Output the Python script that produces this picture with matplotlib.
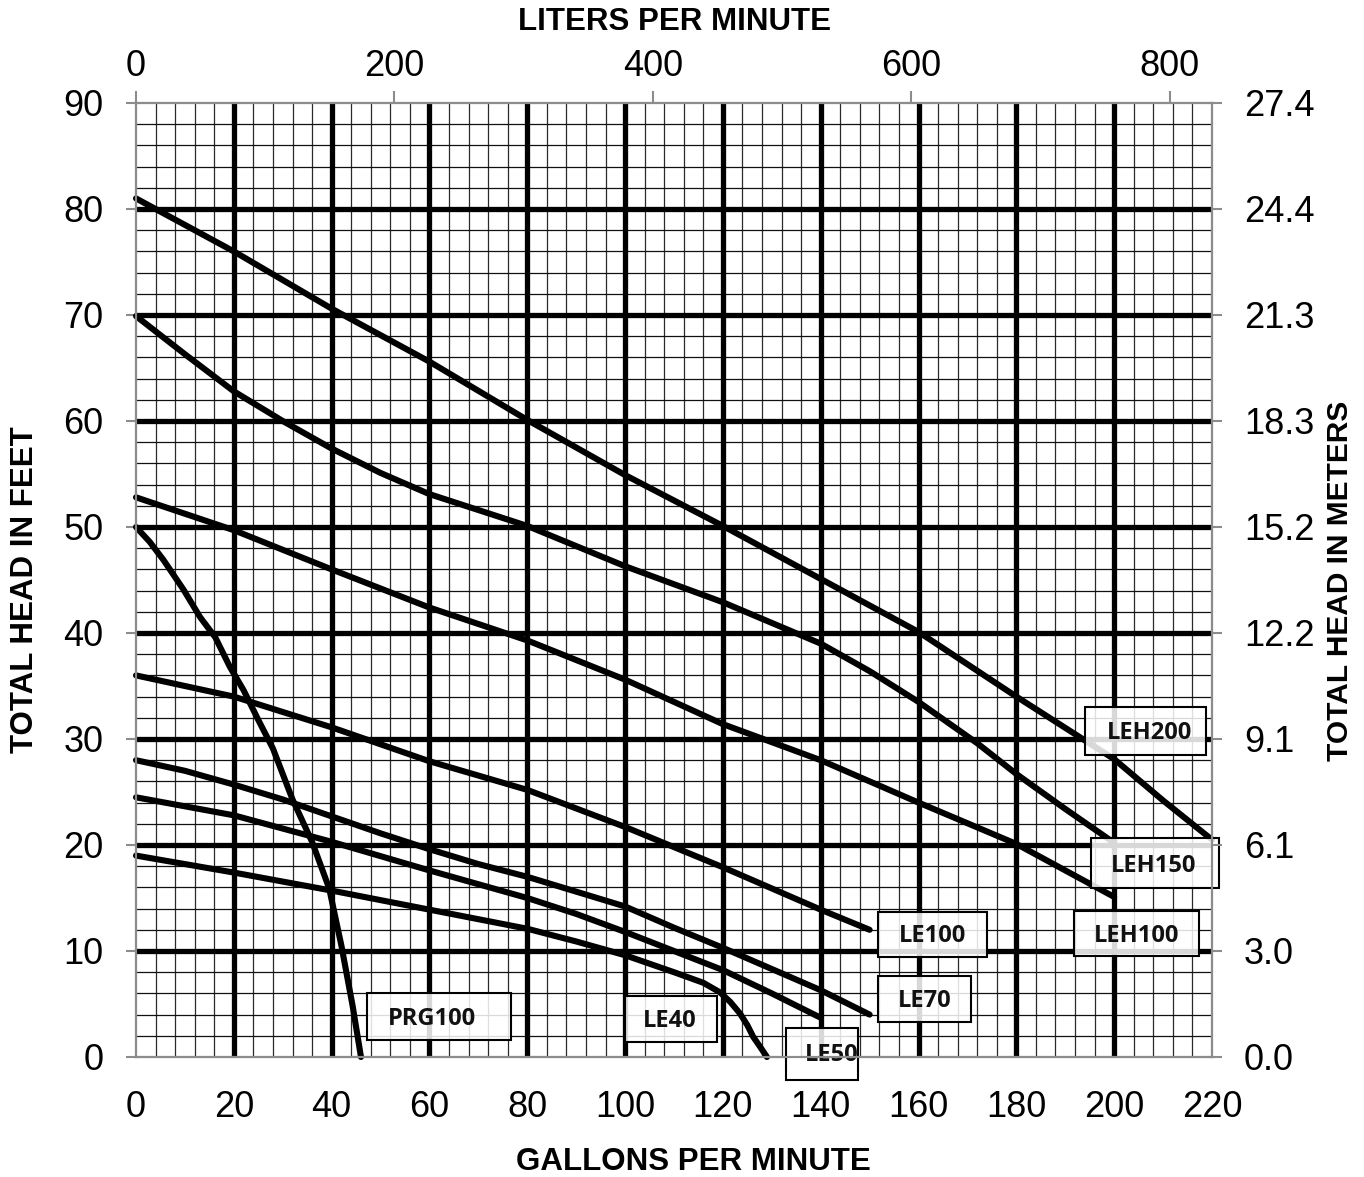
import matplotlib
matplotlib.use('Agg')
import matplotlib.pyplot as plt
from matplotlib.patches import Rectangle

W, H, DPI = 1364, 1177, 100

# ---------------- data ----------------
leh200_gpm = [0, 20, 40, 60, 80, 100, 120, 140, 160, 180, 200, 210, 220]
leh200_ft = [81.0, 76.0, 70.6, 65.6, 60.1, 54.9, 50.1, 45.1, 40.1, 34.0, 28.1, 24.2, 20.5]

leh150_gpm = [0, 10, 20, 30, 40, 50, 60, 80, 100, 120, 140, 150, 160, 172, 180, 190, 200]
leh150_ft = [69.9, 66.3, 62.8, 60.0, 57.4, 55.1, 53.1, 50.1, 46.3, 42.9, 39.0, 36.4, 33.5, 29.6, 26.7, 23.4, 20.2]

leh100_gpm = [0, 20, 40, 60, 80, 100, 120, 140, 160, 180, 200]
leh100_ft = [52.8, 49.7, 46.0, 42.4, 39.3, 35.6, 31.4, 28.0, 24.0, 20.1, 15.1]

le100_gpm = [0, 20, 40, 60, 80, 100, 120, 140, 150]
le100_ft = [36.0, 34.0, 31.1, 27.9, 25.2, 21.7, 17.9, 13.9, 12.0]

le70_gpm = [0, 10, 20, 30, 40, 50, 60, 70, 80, 90, 100, 110, 120, 130, 140, 150]
le70_ft = [28.0, 27.0, 25.7, 24.3, 22.7, 21.1, 19.6, 18.2, 17.0, 15.6, 14.2, 12.2, 10.3, 8.3, 6.3, 4.0]

le50_gpm = [0, 20, 40, 60, 80, 90, 100, 110, 120, 130, 140]
le50_ft = [24.5, 22.8, 20.3, 17.6, 15.0, 13.5, 11.8, 10.0, 8.2, 6.0, 3.7]

le40_gpm = [0, 20, 40, 60, 80, 90, 100, 110, 116, 119.4, 121.5, 123.5, 125, 126.2, 127.7, 129]
le40_ft = [19.0, 17.4, 15.7, 13.9, 12.1, 10.9, 9.6, 8.0, 7.0, 6.1, 5.2, 4.1, 3.0, 1.9, 0.9, 0.0]

prg100_gpm = [0, 2.8, 5.6, 9.7, 13.1, 16.2, 19.2, 22, 25, 28, 32, 36, 39.5, 42, 44.3, 46]
prg100_ft = [50.0, 48.6, 46.9, 44.1, 41.5, 39.6, 36.8, 34.6, 31.8, 29.1, 24.3, 20.3, 15.9, 10.5, 4.8, 0.0]

series_names = ['LEH200', 'LEH150', 'LEH100', 'LE100', 'LE70', 'LE50', 'LE40', 'PRG100']
series_x = [leh200_gpm, leh150_gpm, leh100_gpm, le100_gpm, le70_gpm, le50_gpm, le40_gpm, prg100_gpm]
series_y = [leh200_ft, leh150_ft, leh100_ft, le100_ft, le70_ft, le50_ft, le40_ft, prg100_ft]

gpm_ticks = [0, 20, 40, 60, 80, 100, 120, 140, 160, 180, 200, 220]
ft_ticks = [0, 10, 20, 30, 40, 50, 60, 70, 80, 90]
meter_labels = ['0.0', '3.0', '6.1', '9.1', '12.2', '15.2', '18.3', '21.3', '24.4', '27.4']
lpm_ticks = [0, 200, 400, 600, 800]
LPM_PER_GPM = 3.785

# ---------------- layout (label boxes in data coords: x0, x1, y0, y1, text x, text y) ----------------
label_boxes = {
    'LEH200': (194.0, 218.7, 28.5, 33.0, 207.2, 30.6),
    'LEH150': (195.3, 221.4, 15.9, 20.7, 208.0, 18.0),
    'LEH100': (191.8, 217.3, 9.5, 13.8, 204.6, 11.4),
    'LE100': (151.7, 174.0, 9.4, 13.7, 162.9, 11.4),
    'LE70': (151.7, 170.7, 3.3, 7.6, 161.3, 5.3),
    'LE50': (133.0, 147.6, -2.2, 2.7, 142.3, 0.2),
    'LE40': (100.0, 118.8, 1.4, 5.8, 109.2, 3.4),
    'PRG100': (47.2, 76.7, 1.6, 6.0, 60.5, 3.6),
}

fig = plt.figure(figsize=(W / DPI, H / DPI), dpi=DPI)
fig.patch.set_facecolor('white')
ax = fig.add_axes([136 / W, 1 - 1057 / H, (1212 - 136) / W, (1057 - 103) / H])
ax.set_xlim(0, 220)
ax.set_ylim(0, 90)

# grid: minor every 4 gpm / 2 ft, major every 20 gpm / 10 ft (interior only)
minor_x = [v for v in range(4, 220, 4) if v % 20 != 0]
minor_y = [v for v in range(2, 90, 2) if v % 10 != 0]
major_x = gpm_ticks[1:-1]
major_y = ft_ticks[1:-1]
ax.vlines(minor_x, 0, 90, colors='#2a2a2a', linewidth=0.9, zorder=1)
ax.hlines(minor_y, 0, 220, colors='#111111', linewidth=0.9, zorder=1)
ax.vlines(major_x, 0, 90, colors='black', linewidth=3.8, zorder=2)
ax.hlines(major_y, 0, 220, colors='black', linewidth=3.8, zorder=2)

for xs, ys in zip(series_x, series_y):
    ax.plot(xs, ys, color='black', linewidth=4.4, solid_capstyle='round',
            solid_joinstyle='round', zorder=3, clip_on=False)

for name in series_names:
    x0, x1, y0, y1, tx, ty = label_boxes[name]
    ax.add_patch(Rectangle((x0, y0), x1 - x0, y1 - y0, facecolor='white', alpha=0.85,
                           edgecolor='none', zorder=5, clip_on=False))
    ax.add_patch(Rectangle((x0, y0), x1 - x0, y1 - y0, facecolor='none',
                           edgecolor='black', linewidth=1.5, zorder=5.5, clip_on=False))
    ax.text(tx, ty, name, ha='center', va='center', fontsize=17, fontweight='bold',
            family='Open Sans', color='#111111', zorder=6, clip_on=False)

tick_font = dict(family='Liberation Sans', size=26)
spine_color = '#8c8c8c'

ax.set_xticks(gpm_ticks)
ax.set_xticklabels([str(v) for v in gpm_ticks], **tick_font)
ax.set_yticks(ft_ticks)
ax.set_yticklabels([str(v) for v in ft_ticks], **tick_font)
ax.tick_params(axis='x', length=0, pad=24)
ax.tick_params(axis='y', length=7, width=1.5, color=spine_color, pad=16.5)
for s in ax.spines.values():
    s.set_color(spine_color)
    s.set_linewidth(1.5)

axr = ax.twinx()
axr.set_ylim(0, 90)
axr.set_yticks(ft_ticks)
axr.set_yticklabels(meter_labels, **tick_font)
axr.tick_params(axis='y', length=7, width=1.5, color=spine_color, pad=16)

axt = ax.twiny()
axt.set_xlim(0, 220 * LPM_PER_GPM)
axt.set_xticks(lpm_ticks)
axt.set_xticklabels([str(v) for v in lpm_ticks], **tick_font)
axt.tick_params(axis='x', length=9, width=1.5, color=spine_color, pad=5)
for a in (axr, axt):
    for s in a.spines.values():
        s.set_color(spine_color)
        s.set_linewidth(1.5)

title_font = dict(family='Liberation Sans', size=22.5, fontweight='bold')
fig.text(693 / W, 1 - 1162 / H, 'GALLONS PER MINUTE', ha='center', va='center', **title_font)
fig.text(674 / W, 1 - 22 / H, 'LITERS PER MINUTE', ha='center', va='center', **title_font)
fig.text(25 / W, 1 - 590 / H, 'TOTAL HEAD IN FEET', ha='center', va='center', rotation=90, **title_font)
fig.text(1340 / W, 1 - 581 / H, 'TOTAL HEAD IN METERS', ha='center', va='center', rotation=90,
         family='Liberation Sans', size=21.5, fontweight='bold')

fig.savefig('out.png', dpi=DPI, facecolor='white')
